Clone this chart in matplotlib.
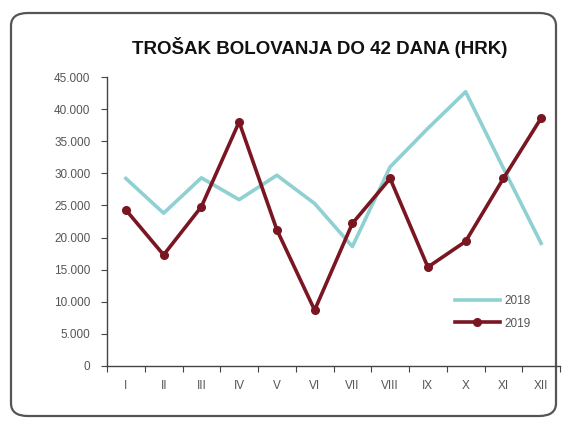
import matplotlib
matplotlib.use("Agg")
import matplotlib.pyplot as plt
from matplotlib.patches import FancyBboxPatch
from matplotlib.ticker import FuncFormatter, FixedLocator

months = ["I", "II", "III", "IV", "V", "VI", "VII", "VIII", "IX", "X", "XI", "XII"]
v2018 = [29200, 23800, 29300, 25900, 29700, 25300, 18600, 31000, 37000, 42700, 30800, 19100]
v2019 = [24300, 17300, 24800, 38000, 21200, 8700, 22200, 29200, 15400, 19400, 29200, 38600]
title = "TROŠAK BOLOVANJA DO 42 DANA (HRK)"
yticks = [0, 5000, 10000, 15000, 20000, 25000, 30000, 35000, 40000, 45000]

plt.rcParams['font.family'] = ['Liberation Sans', 'DejaVu Sans']

W, H = 565, 425
fig = plt.figure(figsize=(W / 100, H / 100), dpi=100)
fig.patch.set_facecolor("white")

box = FancyBboxPatch((11 / W, 9 / H), 545 / W, 403 / H,
                     boxstyle="round,pad=0,rounding_size=0.03",
                     transform=fig.transFigure, facecolor="white",
                     edgecolor="#555555", linewidth=1.6, zorder=-10)
fig.patches.append(box)

ax = fig.add_axes([107 / W, 1 - 366 / H, (560 - 107) / W, (366 - 77) / H])
ax.set_facecolor("none")
ax.set_zorder(5)

x = list(range(1, len(months) + 1))
teal = "#8fd0d2"
red = "#7a1622"
ax.plot(x, v2018, color=teal, lw=2.6, label="2018")
ax.plot(x, v2019, color=red, lw=2.6, marker="o", ms=5.5, label="2019")

ax.set_xlim(0.5, 12.5)
ax.set_ylim(0, 45000)
ax.set_yticks(yticks)
ax.yaxis.set_major_formatter(FuncFormatter(lambda v, p: f"{int(v):,}".replace(",", ".")))

ax.xaxis.set_major_locator(FixedLocator([i + 0.5 for i in range(0, 13)]))
ax.xaxis.set_major_formatter(FuncFormatter(lambda v, p: ""))
ax.set_xticks(x, minor=True)
ax.set_xticklabels(months, minor=True)

ax.tick_params(axis="x", which="major", length=4, width=0.8, color="#444444", direction="out")
ax.tick_params(axis="x", which="minor", length=0, pad=10, labelsize=8.5, labelcolor="#555555")
ax.tick_params(axis="y", length=4, width=0.8, color="#444444", labelsize=8.5, labelcolor="#555555", pad=8)

for s in ["top", "right"]:
    ax.spines[s].set_visible(False)
for s in ["left", "bottom"]:
    ax.spines[s].set_color("#444444")
    ax.spines[s].set_linewidth(1.0)

fig.text(320 / W, 1 - 48 / H, title, ha="center", va="center",
         fontsize=13.5, fontweight="bold", color="#111111", zorder=6)

leg = ax.legend(loc="upper left", bbox_to_anchor=(455 / W, 1 - 295 / H),
                bbox_transform=fig.transFigure, frameon=False, borderpad=0,
                borderaxespad=0, fontsize=8.5, handlelength=3.8, handletextpad=0.4,
                labelspacing=0.9, labelcolor="#555555")

fig.savefig("out.png", dpi=100, facecolor="white")
